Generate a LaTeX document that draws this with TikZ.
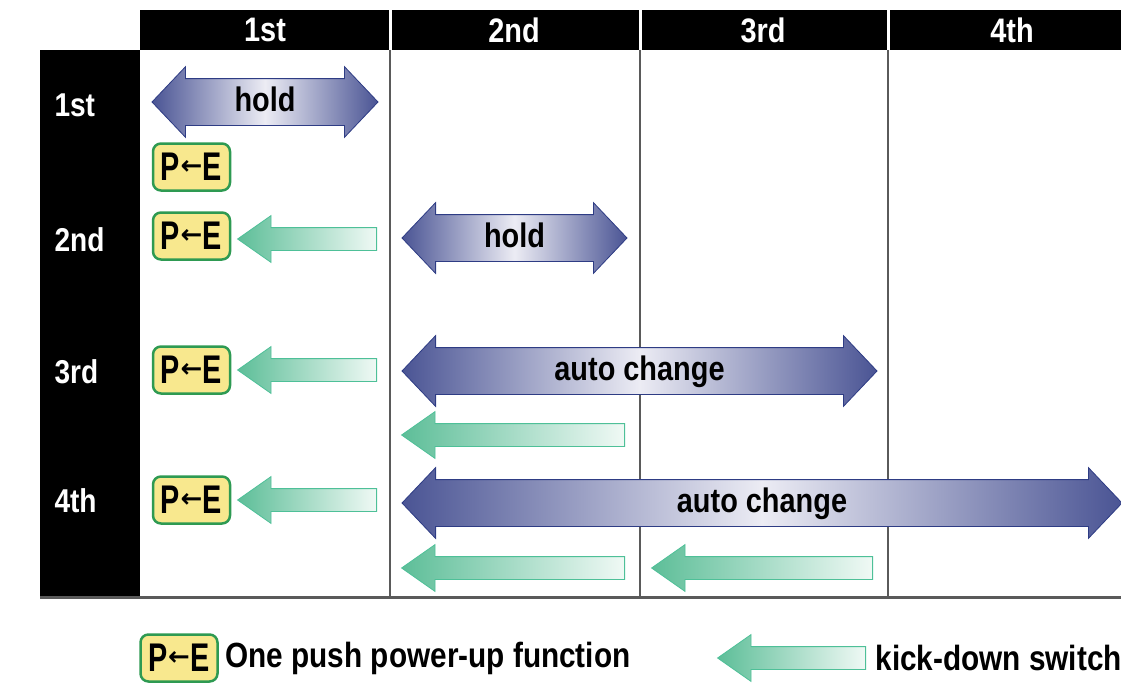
\documentclass[tikz,border=0pt]{standalone}
\usepackage{fontspec}
\setmainfont{Liberation Sans}[FakeStretch=0.85]
\newfontfamily\narrowfont{Liberation Sans}[FakeStretch=0.72]
\newfontfamily\symbfont{DejaVu Sans}
\usetikzlibrary{shapes.arrows,positioning}

\definecolor{bdark}{HTML}{4A5494}
\definecolor{blight}{HTML}{ECECF4}
\definecolor{bedge}{HTML}{2E3C84}
\definecolor{gdark}{HTML}{5DBE98}
\definecolor{glight}{HTML}{F0F9F5}
\definecolor{gedge}{HTML}{22B07E}
\definecolor{pebox}{HTML}{F8E88E}
\definecolor{peedge}{HTML}{2E9A52}
\definecolor{gridline}{HTML}{5A5A5A}

\newcommand{\pesign}{P\kern0.5pt\raisebox{6pt}{\fontsize{26}{26}\symbfont\bfseries ←}\kern0.5pt E}

\begin{document}
\begin{tikzpicture}[x=1pt,y=-1pt]
  \tikzset{
    head/.style={text=white, font=\fontsize{34}{36}\selectfont\bfseries},
    rowlabel/.style={text=white, anchor=west, font=\fontsize{33}{36}\selectfont\bfseries},
    modearrow/.style={double arrow, double arrow head extend=12pt, double arrow tip angle=93,
      text height=25pt, text depth=7pt, inner xsep=0pt, inner ysep=7pt,
      draw=bedge, line width=0.8pt,
      left color=bdark, right color=bdark, middle color=blight,
      font=\fontsize{34}{36}\selectfont\bfseries},
    kickdown/.style={single arrow, shape border rotate=180, single arrow head extend=12pt,
      single arrow tip angle=70, inner xsep=0pt, inner ysep=11pt, anchor=tail,
      draw=gedge!80, line width=0.8pt, left color=gdark, right color=glight},
    powerup/.style={draw=peedge, fill=pebox, line width=2.5pt, rounded corners=8pt,
      minimum width=77pt, minimum height=47pt, inner sep=0pt,
      font=\fontsize{40}{40}\narrowfont\bfseries},
    legend/.style={anchor=west, font=\fontsize{35}{36}\selectfont\bfseries},
  }
  \useasboundingbox (0,0) rectangle (1121,688);

  % table frame
  \fill[black] (140,10) rectangle (1121,50);
  \fill[black] (40,50) rectangle (140,597);
  \foreach \x in {390,640,888} {
    \draw[white, line width=3pt] (\x,10) -- (\x,50);
    \draw[gridline, line width=2.5pt] (\x,50) -- (\x,597);
  }
  \draw[gridline, line width=3pt] (40,597) -- (1121,597);

  % column and row heads
  \foreach \lbl [count=\i] in {1st,2nd,3rd,4th}
    \node[head] (col\i) at (16+249*\i,30) {\lbl};
  \node[rowlabel] (row1) at (51,105) {1st};
  \node[rowlabel] (row2) at (51,240) {2nd};
  \node[rowlabel] (row3) at (51,372) {3rd};
  \node[rowlabel] (row4) at (51,501) {4th};

  % hold / auto change
  \node[modearrow, minimum height=226pt] (hold1) at (265,102) {hold};
  \node[modearrow, minimum height=225pt] (hold2) at (514.5,238) {hold};
  \node[modearrow, minimum height=475pt] (auto3) at (639.5,371) {auto change};
  \node[modearrow, minimum height=720pt] (auto4) at (762,503) {auto change};

  % one push power-up
  \node[powerup] (pe1) at (191.5,167) {\pesign};
  \node[powerup] (pe2) at (191.5,236) {\pesign};
  \node[powerup] (pe3) at (191.5,370) {\pesign};
  \node[powerup] (pe4) at (191.5,500) {\pesign};

  % kick-down
  \node[kickdown, minimum height=139pt] (kd2) at (377,239) {};
  \node[kickdown, minimum height=139pt] (kd3) at (377,370) {};
  \node[kickdown, minimum height=139pt] (kd4) at (377,500) {};
  \node[kickdown, minimum height=223pt] (kd3b) at (625,435) {};
  \node[kickdown, minimum height=223pt] (kd4b) at (625,568) {};
  \node[kickdown, minimum height=221pt] (kd4c) at (873,568) {};

  % legend
  \node[powerup] (pekey) at (179,658) {\pesign};
  \node[legend] (petext) at (222,658) {One push power-up function};
  \node[kickdown, minimum height=148pt] (kdkey) at (866,658) {};
  \node[legend] (kdtext) at (872,658) {kick-down switch};
\end{tikzpicture}
\end{document}
